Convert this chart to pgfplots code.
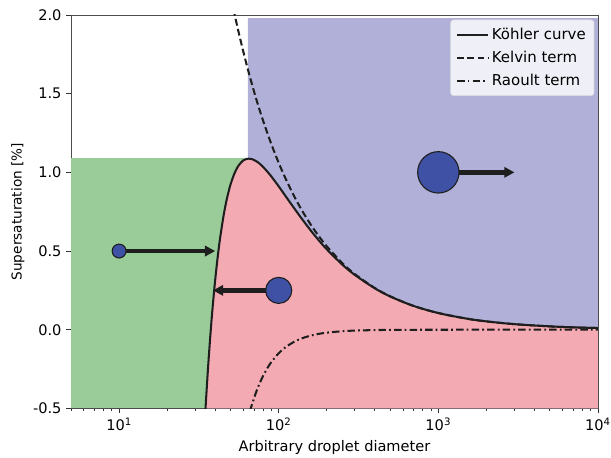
\documentclass[border=0pt]{standalone}
\usepackage{pgfplots}
\pgfplotsset{compat=1.18}
\usepackage{fontspec}
\setmainfont{DejaVu Sans}
\usetikzlibrary{arrows.meta}
\definecolor{cgreen}{RGB}{153,204,153}
\definecolor{cblue}{RGB}{176,176,216}
\definecolor{cpink}{RGB}{244,170,178}
\definecolor{cdot}{RGB}{63,81,165}
\definecolor{cdark}{RGB}{30,30,30}
\begin{document}
\begin{tikzpicture}
\begin{axis}[
  scale only axis,
  width=387pt, height=289pt,
  xmode=log,
  xmin=5, xmax=10000,
  ymin=-0.5, ymax=2.0,
  xtick={10,100,1000,10000},
  xticklabels={10\textsuperscript{1},10\textsuperscript{2},10\textsuperscript{3},10\textsuperscript{4}},
  minor xtick={5,6,7,8,9,20,30,40,50,60,70,80,90,200,300,400,500,600,700,800,900,2000,3000,4000,5000,6000,7000,8000,9000},
  ytick={-0.5,0,0.5,1.0,1.5,2.0},
  yticklabels={-0.5,0.0,0.5,1.0,1.5,2.0},
  tick align=outside,
  xtick pos=bottom, ytick pos=left,
  major tick length=3.5pt, minor tick length=2pt,
  every tick/.style={black!80, line width=0.6pt},
  axis line style={black!70, line width=0.6pt},
  tick label style={font=\fontsize{10.7}{12}\selectfont},
  label style={font=\fontsize{10.7}{12}\selectfont},
  xlabel={Arbitrary droplet diameter},
  ylabel={Supersaturation [\%]},
  every axis y label/.style={at={(axis description cs:-0.1008,0.5)}, rotate=90, anchor=center},
  legend style={at={(0.993,0.988)}, anchor=north east, draw=black!15, fill=white, fill opacity=0.8, text opacity=1, rounded corners=2pt, font=\fontsize{11}{12}\selectfont, row sep=3pt, inner sep=4pt},
  legend cell align=left,
  legend image code/.code={\draw[#1, line width=1.5pt] (0cm,0cm) -- (0.8cm,0cm);},
  clip=true,
]
% regions
\addplot[draw=none, fill=cgreen, forget plot] coordinates {(5,-0.5) (64,-0.5) (64,1.09) (5,1.09)};
\addplot[draw=none, fill=cblue, forget plot] coordinates {
(64,1.98) (64,1.087) (65,1.087) (68,1.084) (72,1.072) (76,1.055) (80,1.033) (85,1.004) (90,0.973) (100,0.911) (110,0.851) (125,0.772) (140,0.703) (160,0.626) (180,0.563) (200,0.511) (250,0.414) (300,0.348) (400,0.263) (500,0.211) (700,0.151) (1000,0.106) (1500,0.0706) (2000,0.053) (3000,0.0353) (5000,0.0212) (7000,0.0151) (10000,0.0106) (10000,1.98)};
\addplot[draw=none, fill=cpink, forget plot] coordinates {
(34.8,-0.5) (35,-0.454) (36,-0.256) (37,-0.083) (38,0.069) (39,0.201) (40,0.317) (41,0.419) (42,0.509) (43,0.587) (45,0.717) (46.5,0.795) (48,0.858) (50,0.926) (53,0.997) (56,1.043) (58,1.062) (60,1.076) (63,1.085) (65,1.087) (68,1.084) (72,1.072) (76,1.055) (80,1.033) (85,1.004) (90,0.973) (100,0.911) (110,0.851) (125,0.772) (140,0.703) (160,0.626) (180,0.563) (200,0.511) (250,0.414) (300,0.348) (400,0.263) (500,0.211) (700,0.151) (1000,0.106) (1500,0.0706) (2000,0.053) (3000,0.0353) (5000,0.0212) (7000,0.0151) (10000,0.0106) (10000,-0.5)};
% curves
\addplot[cdark, line width=1.5pt, smooth] coordinates {
(34.5,-0.563) (35,-0.454) (36,-0.256) (37,-0.083) (38,0.069) (39,0.201) (40,0.317) (41,0.419) (42,0.509) (43,0.587) (45,0.717) (46.5,0.795) (48,0.858) (50,0.926) (53,0.997) (56,1.043) (58,1.062) (60,1.076) (63,1.085) (65,1.087) (68,1.084) (72,1.072) (76,1.055) (80,1.033) (85,1.004) (90,0.973) (100,0.911) (110,0.851) (125,0.772) (140,0.703) (160,0.626) (180,0.563) (200,0.511) (250,0.414) (300,0.348) (400,0.263) (500,0.211) (700,0.151) (1000,0.106) (1500,0.0706) (2000,0.053) (3000,0.0353) (5000,0.0212) (7000,0.0151) (10000,0.0106)};
\addlegendentry{Köhler curve}
\addplot[cdark, line width=1.5pt, dash pattern=on 5pt off 2.5pt, smooth] coordinates {
(52,2.038) (53,2.0) (56,1.893) (60,1.767) (65,1.631) (72,1.472) (80,1.325) (90,1.178) (100,1.06) (110,0.964) (125,0.848) (140,0.757) (160,0.6625) (180,0.589) (200,0.53) (250,0.424) (300,0.353) (400,0.265) (500,0.212) (700,0.151) (1000,0.106) (1500,0.0707) (2000,0.053) (3000,0.0353) (5000,0.0212) (7000,0.0151) (10000,0.0106)};
\addlegendentry{Kelvin term}
\addplot[cdark, line width=1.5pt, dash pattern=on 5.5pt off 2.3pt on 1.3pt off 2.3pt, smooth] coordinates {
(66,-0.519) (68,-0.4748) (72,-0.400) (76,-0.340) (80,-0.2916) (85,-0.2431) (90,-0.2048) (100,-0.1493) (110,-0.1122) (125,-0.0764) (140,-0.0544) (160,-0.0365) (180,-0.0256) (200,-0.0187) (250,-0.0096) (300,-0.0055) (400,-0.0023) (500,-0.0012) (700,-0.0004) (1000,-0.0001) (2000,0) (5000,0) (10000,0)};
\addlegendentry{Raoult term}
% arrows
\addplot[cdark, line width=3.2pt, -{Triangle[length=7.5pt,width=7.5pt]}, forget plot] coordinates {(10,0.5) (40,0.5)};
\addplot[cdark, line width=3.2pt, -{Triangle[length=7.5pt,width=7.5pt]}, forget plot] coordinates {(100,0.25) (38.7,0.25)};
\addplot[cdark, line width=3.2pt, -{Triangle[length=7.5pt,width=7.5pt]}, forget plot] coordinates {(1000,1.0) (3000,1.0)};
% droplets
\addplot[only marks, mark=*, mark size=5.1pt, mark options={fill=cdot, draw=cdark, line width=0.8pt}, forget plot] coordinates {(10,0.5)};
\addplot[only marks, mark=*, mark size=9.6pt, mark options={fill=cdot, draw=cdark, line width=0.8pt}, forget plot] coordinates {(100,0.25)};
\addplot[only marks, mark=*, mark size=15.2pt, mark options={fill=cdot, draw=cdark, line width=0.8pt}, forget plot] coordinates {(1000,1.0)};
\end{axis}
\pgfresetboundingbox
\path ([xshift=-52.2pt,yshift=-36pt]current axis.south west) rectangle ([xshift=9.6pt,yshift=11pt]current axis.north east);
\end{tikzpicture}
\end{document}
